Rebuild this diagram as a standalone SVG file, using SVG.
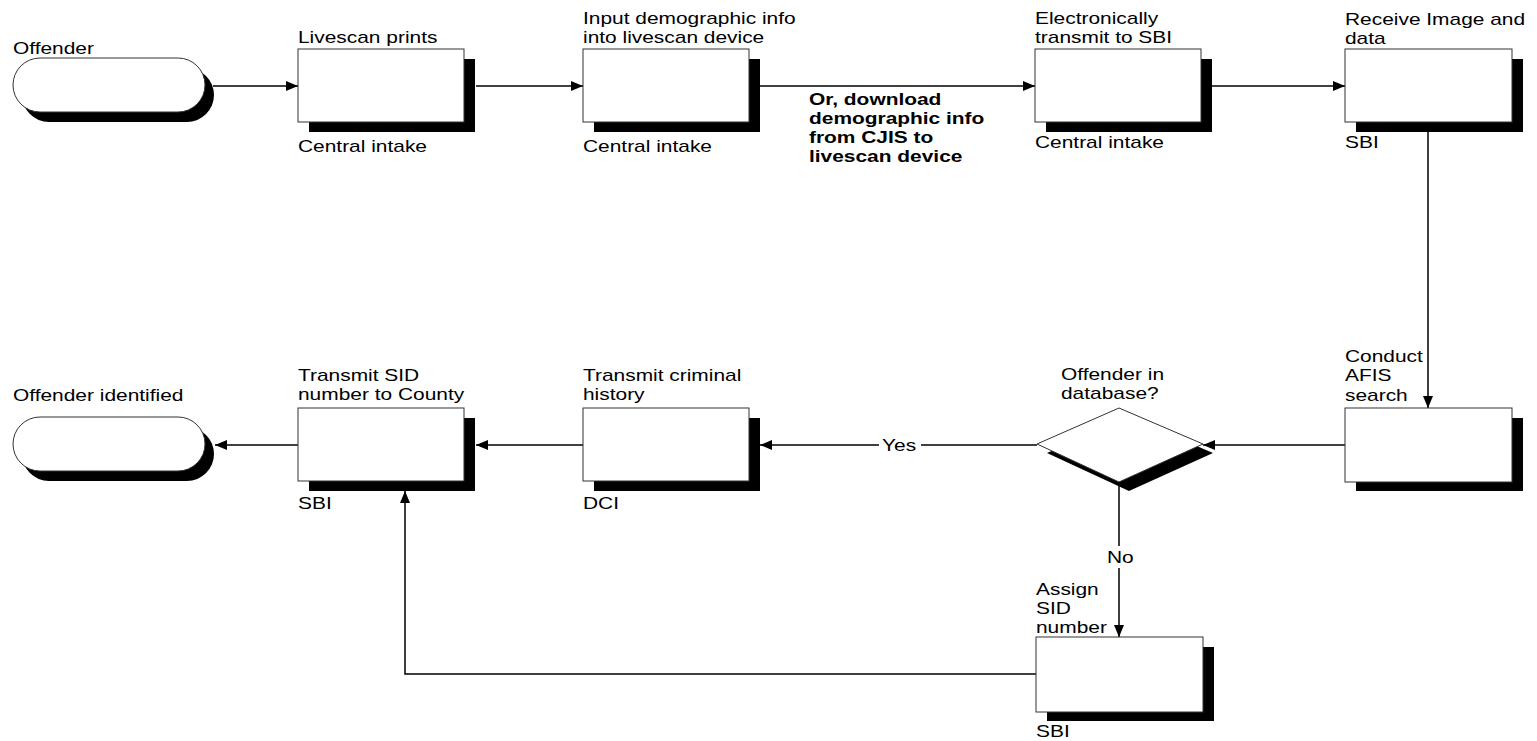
<svg xmlns="http://www.w3.org/2000/svg" width="1537" height="741" viewBox="0 0 1537 741">
  <defs>
    <marker id="arrow" viewBox="0 0 12 10" refX="12" refY="5" markerWidth="12" markerHeight="10" markerUnits="userSpaceOnUse" orient="auto">
      <path d="M0,0 L12,5 L0,10 z" fill="#000"/>
    </marker>
  </defs>
  <style>
    .box { fill: #fff; stroke: #333; stroke-width: 1; }
    .shadow { fill: #000; }
    .lbl { font-family: "Liberation Sans", Arial, sans-serif; font-size: 17px; fill: #000; }
    .bold { font-weight: bold; }
    .conn { fill: none; stroke: #000; stroke-width: 1.5; }
  </style>
  <rect width="1537" height="741" fill="#fff"/>

  <!-- connectors -->
  <g id="connectors">
    <line class="conn" x1="213" y1="86" x2="298" y2="86" marker-end="url(#arrow)"/>
    <line class="conn" x1="476" y1="86" x2="583" y2="86" marker-end="url(#arrow)"/>
    <line class="conn" x1="760" y1="86" x2="1035" y2="86" marker-end="url(#arrow)"/>
    <line class="conn" x1="1212" y1="86" x2="1345" y2="86" marker-end="url(#arrow)"/>
    <line class="conn" x1="1428" y1="131" x2="1428" y2="408" marker-end="url(#arrow)"/>
    <line class="conn" x1="1345" y1="445" x2="1203" y2="445" marker-end="url(#arrow)"/>
    <line class="conn" x1="1037" y1="445" x2="760" y2="445" marker-end="url(#arrow)"/>
    <line class="conn" x1="583" y1="445" x2="476" y2="445" marker-end="url(#arrow)"/>
    <line class="conn" x1="298" y1="445" x2="215" y2="445" marker-end="url(#arrow)"/>
    <line class="conn" x1="1119" y1="482" x2="1119" y2="637" marker-end="url(#arrow)"/>
    <polyline class="conn" points="1036,674 405,674 405,491" marker-end="url(#arrow)"/>
    <!-- connector labels -->
    <rect x="879" y="434" width="42" height="20" fill="#fff"/>
    <text class="lbl" transform="translate(882,451) scale(1.23,1)">Yes</text>
    <rect x="1104" y="546" width="32" height="22" fill="#fff"/>
    <text class="lbl" transform="translate(1107,563) scale(1.23,1)">No</text>
    <text class="lbl bold" transform="translate(809,105) scale(1.23,1)">
      <tspan x="0" y="0">Or, download</tspan>
      <tspan x="0" y="19">demographic info</tspan>
      <tspan x="0" y="38">from CJIS to</tspan>
      <tspan x="0" y="57">livescan device</tspan>
    </text>
  </g>

  <!-- start terminal -->
  <g id="offender">
    <rect class="shadow" x="22" y="68" width="192" height="54" rx="27"/>
    <rect class="box" x="13" y="58" width="192" height="54" rx="27"/>
    <text class="lbl" transform="translate(13,54) scale(1.23,1)">Offender</text>
  </g>

  <g id="livescan-prints">
    <rect class="shadow" x="309" y="59" width="166" height="73"/>
    <rect class="box" x="298" y="49" width="166" height="73"/>
    <text class="lbl" transform="translate(298,43) scale(1.23,1)">Livescan prints</text>
    <text class="lbl" transform="translate(298,152) scale(1.23,1)">Central intake</text>
  </g>

  <g id="input-demographic">
    <rect class="shadow" x="594" y="59" width="166" height="73"/>
    <rect class="box" x="583" y="49" width="166" height="73"/>
    <text class="lbl" transform="translate(583,24) scale(1.23,1)">
      <tspan x="0" y="0">Input demographic info</tspan>
      <tspan x="0" y="19">into livescan device</tspan>
    </text>
    <text class="lbl" transform="translate(583,152) scale(1.23,1)">Central intake</text>
  </g>

  <g id="transmit-to-sbi">
    <rect class="shadow" x="1046" y="59" width="166" height="73"/>
    <rect class="box" x="1035" y="49" width="166" height="73"/>
    <text class="lbl" transform="translate(1035,24) scale(1.23,1)">
      <tspan x="0" y="0">Electronically</tspan>
      <tspan x="0" y="19">transmit to SBI</tspan>
    </text>
    <text class="lbl" transform="translate(1035,148) scale(1.23,1)">Central intake</text>
  </g>

  <g id="receive-image">
    <rect class="shadow" x="1356" y="59" width="167" height="73"/>
    <rect class="box" x="1345" y="49" width="167" height="73"/>
    <text class="lbl" transform="translate(1345,25) scale(1.23,1)">
      <tspan x="0" y="0">Receive Image and</tspan>
      <tspan x="0" y="19">data</tspan>
    </text>
    <text class="lbl" transform="translate(1345,148) scale(1.23,1)">SBI</text>
  </g>

  <g id="afis-search">
    <rect class="shadow" x="1356" y="418" width="167" height="73"/>
    <rect class="box" x="1345" y="408" width="167" height="74"/>
    <text class="lbl" transform="translate(1345,362) scale(1.23,1)">
      <tspan x="0" y="0">Conduct</tspan>
      <tspan x="0" y="19.5">AFIS</tspan>
      <tspan x="0" y="39">search</tspan>
    </text>
  </g>

  <g id="in-database">
    <polygon class="shadow" points="1047,453 1129,417 1213,453 1129,491"/>
    <polygon class="box" points="1037,444 1119,408 1203,444 1119,482"/>
    <text class="lbl" transform="translate(1061,380) scale(1.23,1)">
      <tspan x="0" y="0">Offender in</tspan>
      <tspan x="0" y="19">database?</tspan>
    </text>
  </g>

  <g id="criminal-history">
    <rect class="shadow" x="594" y="418" width="166" height="73"/>
    <rect class="box" x="583" y="408" width="166" height="73"/>
    <text class="lbl" transform="translate(583,381) scale(1.23,1)">
      <tspan x="0" y="0">Transmit criminal</tspan>
      <tspan x="0" y="19.5">history</tspan>
    </text>
    <text class="lbl" transform="translate(583,509) scale(1.23,1)">DCI</text>
  </g>

  <g id="transmit-sid">
    <rect class="shadow" x="309" y="418" width="166" height="73"/>
    <rect class="box" x="298" y="408" width="166" height="73"/>
    <text class="lbl" transform="translate(298,381) scale(1.23,1)">
      <tspan x="0" y="0">Transmit SID</tspan>
      <tspan x="0" y="19.5">number to County</tspan>
    </text>
    <text class="lbl" transform="translate(298,509) scale(1.23,1)">SBI</text>
  </g>

  <g id="offender-identified">
    <rect class="shadow" x="22" y="427" width="192" height="54" rx="27"/>
    <rect class="box" x="13" y="417" width="192" height="54" rx="27"/>
    <text class="lbl" transform="translate(13,401) scale(1.23,1)">Offender identified</text>
  </g>

  <g id="assign-sid">
    <rect class="shadow" x="1047" y="647" width="167" height="74"/>
    <rect class="box" x="1036" y="637" width="167" height="75"/>
    <text class="lbl" transform="translate(1036,595) scale(1.23,1)">
      <tspan x="0" y="0">Assign</tspan>
      <tspan x="0" y="19">SID</tspan>
      <tspan x="0" y="38">number</tspan>
    </text>
    <text class="lbl" transform="translate(1036,737) scale(1.23,1)">SBI</text>
  </g>
</svg>
